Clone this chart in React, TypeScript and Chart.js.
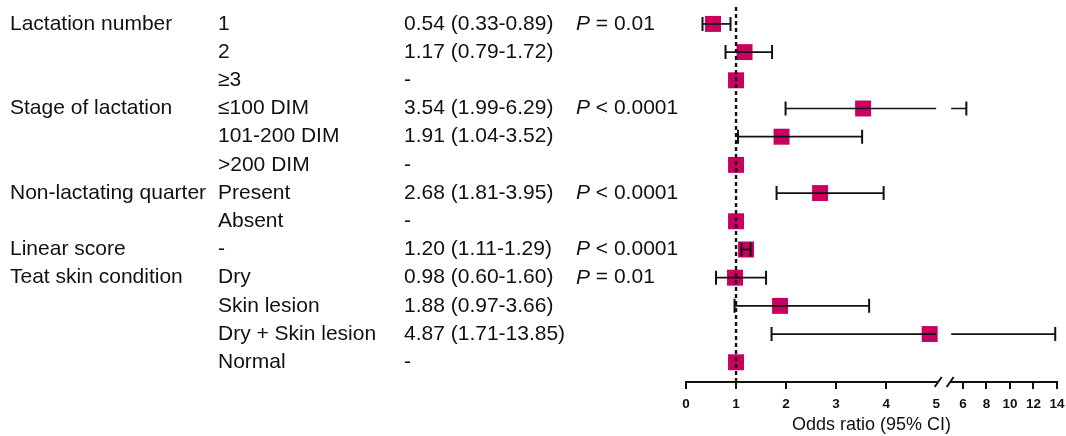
import { useEffect, useRef } from 'react';
import { Chart, registerables } from 'chart.js';

Chart.register(...registerables);

const GROUPS = [
  'Lactation number', '', '',
  'Stage of lactation', '', '',
  'Non-lactating quarter', '',
  'Linear score',
  'Teat skin condition', '', '', '',
];
const LEVELS = [
  '1', '2', '≥3',
  '≤100 DIM', '101-200 DIM', '>200 DIM',
  'Present', 'Absent',
  '-',
  'Dry', 'Skin lesion', 'Dry + Skin lesion', 'Normal',
];
const ODDS = [0.54, 1.17, 1, 3.54, 1.91, 1, 2.68, 1, 1.2, 0.98, 1.88, 4.87, 1];
const LOWER: (number | null)[] = [0.33, 0.79, null, 1.99, 1.04, null, 1.81, null, 1.11, 0.6, 0.97, 1.71, null];
const UPPER: (number | null)[] = [0.89, 1.72, null, 6.29, 3.52, null, 3.95, null, 1.29, 1.6, 3.66, 13.85, null];
const OR_TEXT = [
  '0.54 (0.33-0.89)', '1.17 (0.79-1.72)', '-',
  '3.54 (1.99-6.29)', '1.91 (1.04-3.52)', '-',
  '2.68 (1.81-3.95)', '-',
  '1.20 (1.11-1.29)',
  '0.98 (0.60-1.60)', '1.88 (0.97-3.66)', '4.87 (1.71-13.85)', '-',
];
const P_TEXT = ['= 0.01', '', '', '< 0.0001', '', '', '< 0.0001', '', '< 0.0001', '= 0.01', '', '', ''];
const TICK_VALUES = [0, 1, 2, 3, 4, 5, 6, 8, 10, 12, 14];
const TICK_LABELS = ['0', '1', '2', '3', '4', '5', '6', '8', '10', '12', '14'];

// broken axis: linear 0-5, then compressed 5-14
const BREAK_AT = 5;
const GAP = 0.3;
const COMPRESS = 0.235;
const tx = (v: number) => (v <= BREAK_AT ? v : BREAK_AT + GAP + (v - BREAK_AT) * COMPRESS);

const FONT = '"Liberation Sans", Arial, Helvetica, sans-serif';
const TEXT_SIZE = 21;
const COL_X = [10, 218, 404, 576];
const SQUARE = '#c8005f';

const forestPlugin = {
  id: 'forest',
  afterDatasetsDraw(chart: any) {
    const { ctx, scales, chartArea } = chart;
    const x = scales.x;
    const y = scales.y;
    ctx.save();
    // error bars
    ctx.strokeStyle = '#111';
    const cap = 7;
    for (let i = 0; i < ODDS.length; i++) {
      const lo = LOWER[i];
      const hi = UPPER[i];
      if (lo == null || hi == null) continue;
      const py = y.getPixelForValue(i);
      const xl = x.getPixelForValue(tx(lo));
      const xh = x.getPixelForValue(tx(hi));
      ctx.lineWidth = 1.7;
      ctx.beginPath();
      if (hi > BREAK_AT) {
        ctx.moveTo(xl, py);
        ctx.lineTo(x.getPixelForValue(BREAK_AT), py);
        ctx.moveTo(x.getPixelForValue(BREAK_AT + GAP), py);
        ctx.lineTo(xh, py);
      } else {
        ctx.moveTo(xl, py);
        ctx.lineTo(xh, py);
      }
      ctx.stroke();
      ctx.lineWidth = 2;
      ctx.beginPath();
      ctx.moveTo(xl, py - cap);
      ctx.lineTo(xl, py + cap);
      ctx.moveTo(xh, py - cap);
      ctx.lineTo(xh, py + cap);
      ctx.stroke();
    }
    // reference dashed line at OR = 1
    const x1 = x.getPixelForValue(tx(1));
    ctx.beginPath();
    ctx.setLineDash([4, 3]);
    ctx.lineWidth = 2.4;
    ctx.strokeStyle = '#111';
    ctx.moveTo(x1, chartArea.top);
    ctx.lineTo(x1, chartArea.bottom);
    ctx.stroke();
    ctx.setLineDash([]);

    // broken axis line
    const ay = chartArea.bottom;
    const s1 = x.getPixelForValue(BREAK_AT) + 2;
    const s2 = x.getPixelForValue(BREAK_AT + GAP) - 1;
    ctx.lineWidth = 2;
    ctx.strokeStyle = '#111';
    ctx.beginPath();
    ctx.moveTo(x.getPixelForValue(0) - 1, ay);
    ctx.lineTo(s1, ay);
    ctx.moveTo(s2, ay);
    ctx.lineTo(x.getPixelForValue(tx(14)) + 1, ay);
    ctx.moveTo(s1 - 3.5, ay + 5);
    ctx.lineTo(s1 + 3.5, ay - 5);
    ctx.moveTo(s2 - 3.5, ay + 5);
    ctx.lineTo(s2 + 3.5, ay - 5);
    ctx.stroke();

    // table text
    ctx.fillStyle = '#111';
    ctx.textBaseline = 'middle';
    ctx.textAlign = 'left';
    for (let i = 0; i < ODDS.length; i++) {
      const py = y.getPixelForValue(i);
      ctx.font = `${TEXT_SIZE}px ${FONT}`;
      if (GROUPS[i]) ctx.fillText(GROUPS[i], COL_X[0], py);
      ctx.fillText(LEVELS[i], COL_X[1], py);
      ctx.fillText(OR_TEXT[i], COL_X[2], py);
      if (P_TEXT[i]) {
        ctx.font = `italic ${TEXT_SIZE}px ${FONT}`;
        ctx.fillText('P', COL_X[3], py);
        const w = ctx.measureText('P ').width;
        ctx.font = `${TEXT_SIZE}px ${FONT}`;
        ctx.fillText(P_TEXT[i], COL_X[3] + w, py);
      }
    }
    ctx.restore();
  },
};

export default function App() {
  const ref = useRef<HTMLCanvasElement | null>(null);
  useEffect(() => {
    if (!ref.current) return;
    const chart = new Chart(ref.current, {
      type: 'scatter',
      data: {
        datasets: [
          {
            data: ODDS.map((v, i) => ({ x: tx(v), y: i })),
            pointStyle: 'rect',
            pointRadius: 11.3,
            pointHoverRadius: 11.3,
            backgroundColor: SQUARE,
            borderWidth: 0,
          },
        ],
      },
      options: {
        responsive: false,
        animation: false,
        events: [],
        layout: { autoPadding: false, padding: { left: 686, right: 9, top: 7, bottom: 0 } },
        plugins: { legend: { display: false }, tooltip: { enabled: false } },
        scales: {
          y: { type: 'linear', min: -0.6, max: 12.7, reverse: true, display: false },
          x: {
            type: 'linear',
            min: 0,
            max: tx(14),
            border: { display: false },
            grid: {
              drawOnChartArea: false,
              drawTicks: true,
              tickLength: 7,
              lineWidth: 2,
              color: (c: any) => (c.tick && c.tick.value === BREAK_AT ? 'rgba(0,0,0,0)' : '#111'),
            },
            afterBuildTicks: (scale: any) => {
              scale.ticks = TICK_VALUES.map((v) => ({ value: tx(v) }));
            },
            afterFit: (scale: any) => {
              scale.height = 54;
              scale.paddingLeft = 0;
              scale.paddingRight = 0;
            },
            ticks: {
              autoSkip: false,
              maxRotation: 0,
              padding: 7,
              color: '#111',
              font: { family: FONT, size: 13.5, weight: 'bold' },
              callback: (_v: any, index: number) => TICK_LABELS[index],
            },
            title: {
              display: true,
              text: 'Odds ratio (95% CI)',
              color: '#111',
              font: { family: FONT, size: 18 },
              padding: { top: 0, bottom: 0 },
            },
          },
        },
      },
      plugins: [forestPlugin],
    });
    return () => chart.destroy();
  }, []);
  return (
    <div style={{ position: 'fixed', left: 0, top: 0, width: 1066, height: 436, background: '#fff' }}>
      <canvas ref={ref} width={1066} height={436} style={{ display: 'block' }} />
    </div>
  );
}
